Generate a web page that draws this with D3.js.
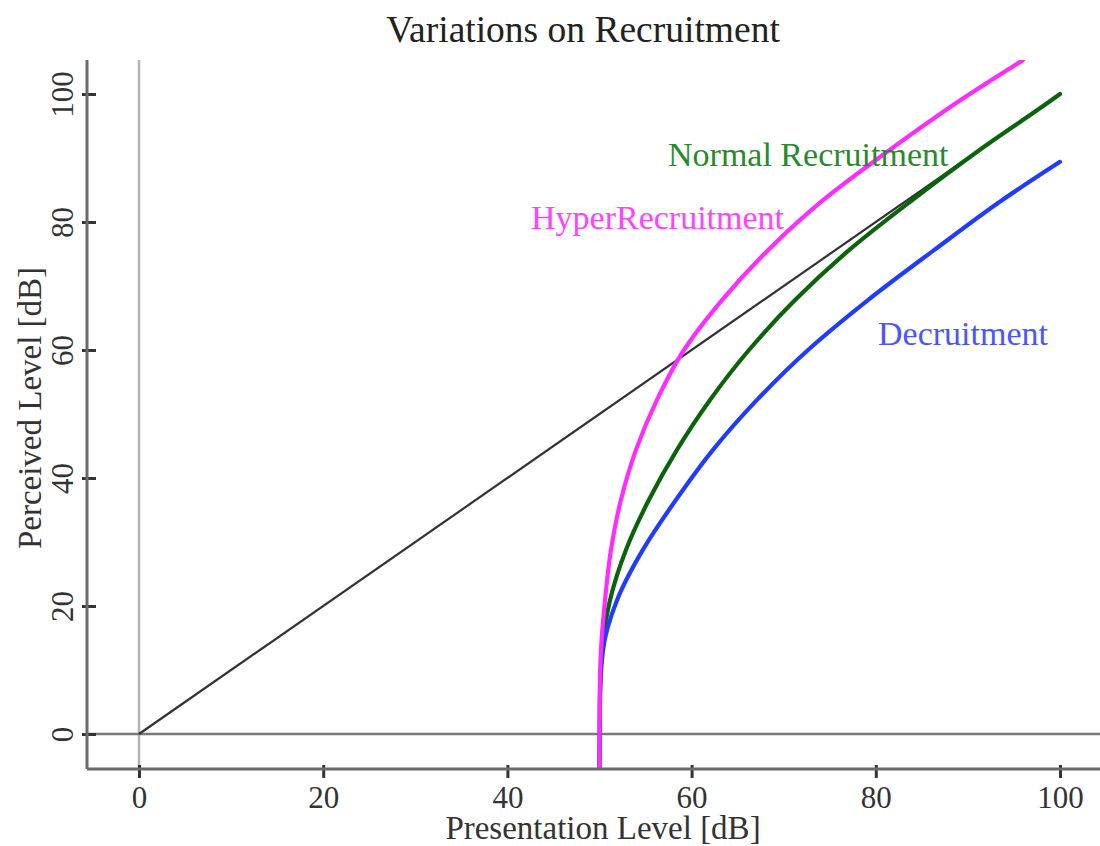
<!DOCTYPE html>
<html><head><meta charset="utf-8">
<script src="https://cdn.jsdelivr.net/npm/d3@7"></script>
<style>
html,body{margin:0;padding:0;background:#fff;}
svg{display:block;}
text{font-family:"Liberation Serif","DejaVu Serif",serif;}
</style></head>
<body>
<svg id="chart" width="1100" height="846"></svg>
<script>
const title = "Variations on Recruitment";
const xLabel = "Presentation Level [dB]";
const yLabel = "Perceived Level [dB]";
const xTicks = [0, 20, 40, 60, 80, 100];
const yTicks = [0, 20, 40, 60, 80, 100];

const identityX = [0, 100];
const identityY = [0, 100];

const normalX = [50, 50.05, 50.27, 51.14, 52.88, 55.37, 58.41, 62.0, 66.23, 71.23, 77.09, 83.93, 91.31, 99.13, 100];
const normalY = [-5.5, 5.3, 13.1, 20.9, 28.8, 36.6, 44.4, 52.2, 60, 67.8, 75.6, 83.4, 91.3, 99.1, 100];

const decruitX = [50, 50.05, 50.38, 51.9, 54.72, 58.31, 62.32, 67.1, 72.64, 79.15, 86.32, 93.7, 100];
const decruitY = [-5.5, 5.3, 13.1, 20.9, 28.8, 36.6, 44.4, 52.2, 60, 67.8, 75.6, 83.4, 89.4];

const hyperX = [50, 50.02, 50.16, 50.6, 51.25, 52.33, 53.96, 56.24, 59.17, 63.3, 68.3, 74.27, 81.54, 89.25, 95.98];
const hyperY = [-5.5, 5.3, 13.1, 20.9, 28.8, 36.6, 44.4, 52.2, 60, 67.8, 75.6, 83.4, 91.3, 99.1, 105.3];

const seriesNames = ["Normal Recruitment", "HyperRecruitment", "Decruitment"];

const svg = d3.select("#chart");
const plotLeft = 87, plotBottom = 769, plotTop = 60, plotRight = 1100;

const x = d3.scaleLinear().domain([0, 100]).range([139, 1060]);
const y = d3.scaleLinear().domain([0, 100]).range([734, 94]);

svg.append("defs").append("clipPath").attr("id", "plotclip")
  .append("rect").attr("x", plotLeft).attr("y", plotTop)
  .attr("width", plotRight - plotLeft).attr("height", plotBottom - plotTop);

const g = svg.append("g").attr("clip-path", "url(#plotclip)");

// reference lines at 0
g.append("line").attr("x1", x(0)).attr("x2", x(0))
  .attr("y1", plotTop).attr("y2", plotBottom)
  .attr("stroke", "#b3b3b3").attr("stroke-width", 2.5);
g.append("line").attr("x1", plotLeft).attr("x2", plotRight)
  .attr("y1", y(0)).attr("y2", y(0))
  .attr("stroke", "#7a7a7a").attr("stroke-width", 2.5);

const zip = (xs, ys) => xs.map((v, i) => [v, ys[i]]);
const lineStraight = d3.line().x(d => x(d[0])).y(d => y(d[1]));
const lineCurve = d3.line().x(d => x(d[0])).y(d => y(d[1])).curve(d3.curveMonotoneY);

g.append("path").attr("d", lineStraight(zip(identityX, identityY)))
  .attr("fill", "none").attr("stroke", "#333").attr("stroke-width", 2.2);

const series = [
  {xs: normalX, ys: normalY, color: "#0b640b"},
  {xs: decruitX, ys: decruitY, color: "#1f3cff"},
  {xs: hyperX, ys: hyperY, color: "#ff2cff"}
];
series.forEach(s => {
  g.append("path").attr("d", lineCurve(zip(s.xs, s.ys)))
    .attr("fill", "none").attr("stroke", s.color).attr("stroke-width", 4.2)
    .attr("stroke-linecap", "round");
});

// axes
const xAxis = d3.axisBottom(x).tickValues(xTicks).tickSize(0).tickPadding(0);
const xg = svg.append("g").attr("transform", `translate(0,${plotBottom})`).call(xAxis);
xg.select(".domain").remove();
xg.append("line").attr("x1", plotLeft).attr("x2", plotRight).attr("y1", 0).attr("y2", 0)
  .attr("stroke", "#6a6a6a").attr("stroke-width", 3);
xg.selectAll(".tick line").attr("y1", -4).attr("y2", 9).attr("stroke", "#333").attr("stroke-width", 3);
xg.selectAll(".tick text").attr("y", 39).attr("dy", null)
  .attr("font-size", 31).attr("fill", "#333").attr("font-family", "Liberation Serif");

const yAxis = d3.axisLeft(y).tickValues(yTicks).tickSize(0).tickPadding(0);
const yg = svg.append("g").attr("transform", `translate(${plotLeft},0)`).call(yAxis);
yg.select(".domain").remove();
yg.append("line").attr("x1", 0).attr("x2", 0).attr("y1", plotTop).attr("y2", plotBottom)
  .attr("stroke", "#6a6a6a").attr("stroke-width", 3);
yg.selectAll(".tick line").attr("x1", -5).attr("x2", 9).attr("stroke", "#333").attr("stroke-width", 3);
yg.selectAll(".tick text")
  .attr("x", null).attr("dy", null)
  .attr("transform", "translate(-14,0) rotate(-90)")
  .attr("text-anchor", "middle").attr("font-size", 31).attr("fill", "#333")
  .attr("font-family", "Liberation Serif");

// title and axis titles
svg.append("text").attr("x", 583).attr("y", 42).attr("text-anchor", "middle")
  .attr("font-size", 37.5).attr("fill", "#222").text(title);
svg.append("text").attr("x", 603).attr("y", 839).attr("text-anchor", "middle")
  .attr("font-size", 33).attr("fill", "#333").text(xLabel);
svg.append("text").attr("transform", "translate(41,408) rotate(-90)").attr("text-anchor", "middle")
  .attr("font-size", 33).attr("fill", "#333").text(yLabel);

// series labels
const labelPos = [
  {x: 668, y: 166, color: "#2a8a2a"},
  {x: 531, y: 229, color: "#ff44ff"},
  {x: 878, y: 345, color: "#4a55ff"}
];
seriesNames.forEach((name, i) => {
  svg.append("text").attr("x", labelPos[i].x).attr("y", labelPos[i].y)
    .attr("font-size", 34).attr("fill", labelPos[i].color).text(name);
});
</script>
</body></html>
